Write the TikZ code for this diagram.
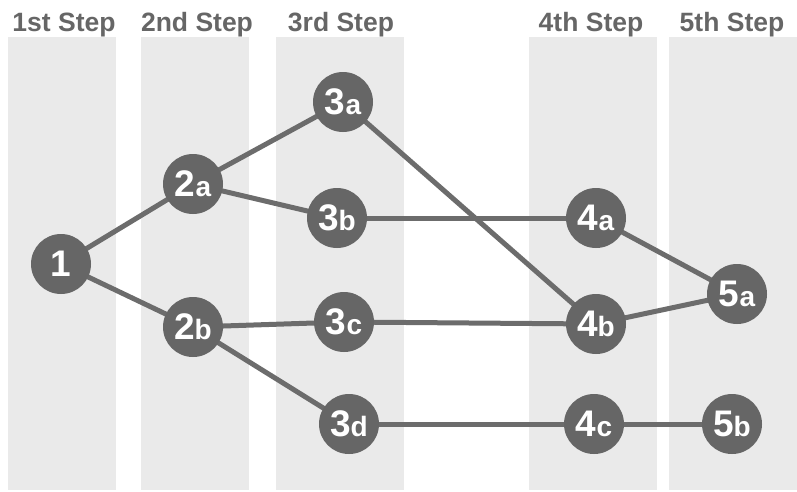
\documentclass[tikz,border=0pt]{standalone}
\usepackage{fontspec}
\setmainfont{Liberation Sans}
\definecolor{band}{RGB}{234,234,234}
\definecolor{ink}{RGB}{102,102,102}
\definecolor{wire}{RGB}{108,108,108}
\pgfdeclarelayer{bands}
\pgfdeclarelayer{wires}
\pgfsetlayers{bands,wires,main}
\newcommand{\stepnum}[2]{{\fontsize{37}{37}\selectfont\bfseries #1}{\fontsize{28}{28}\selectfont\bfseries #2}}
\tikzset{
  stage/.style={circle, fill=ink, text=white, minimum size=60pt, inner sep=0pt},
  head/.style={text=ink, font=\fontsize{26.5}{27}\selectfont\bfseries, inner sep=0pt, anchor=base},
  link/.style={draw=wire, line width=5pt},
  column/.style={fill=band}
}
\begin{document}
\begin{tikzpicture}[x=1pt,y=-1pt]
\useasboundingbox (0,0) rectangle (797,491);
% column backgrounds
\begin{pgfonlayer}{bands}
\fill[column] (8,37) rectangle (116,490);
\fill[column] (141,37) rectangle (249,490);
\fill[column] (276,37) rectangle (404,490);
\fill[column] (529,37) rectangle (657,490);
\fill[column] (669,37) rectangle (797,490);
\end{pgfonlayer}
% column headings
\node[head] (h1) at (64,31) {1st Step};
\node[head] (h2) at (197,31) {2nd Step};
\node[head] (h3) at (341,31) {3rd Step};
\node[head] (h4) at (591,31) {4th Step};
\node[head] (h5) at (732,31) {5th Step};
% steps
\node[stage] (s1) at (61,264) {\stepnum{1}{}};
\node[stage] (s2a) at (193,184) {\stepnum{2}{a}};
\node[stage] (s2b) at (193,327) {\stepnum{2}{b}};
\node[stage] (s3a) at (343,102) {\stepnum{3}{a}};
\node[stage] (s3b) at (337,218) {\stepnum{3}{b}};
\node[stage] (s3c) at (344,322) {\stepnum{3}{c}};
\node[stage] (s3d) at (349,424) {\stepnum{3}{d}};
\node[stage] (s4a) at (596,218) {\stepnum{4}{a}};
\node[stage] (s4b) at (596,324) {\stepnum{4}{b}};
\node[stage] (s4c) at (594,424) {\stepnum{4}{c}};
\node[stage] (s5a) at (737,294) {\stepnum{5}{a}};
\node[stage] (s5b) at (732,424) {\stepnum{5}{b}};
% connections
\begin{pgfonlayer}{wires}
\draw[link] (s1.center) -- (s2a.center);
\draw[link] (s1.center) -- (s2b.center);
\draw[link] (s2a.center) -- (s3a.center);
\draw[link] (s2a.center) -- (s3b.center);
\draw[link] (s2b.center) -- (s3c.center);
\draw[link] (s2b.center) -- (s3d.center);
\draw[link] (s3a.center) -- (s4b.center);
\draw[link] (s3b.center) -- (s4a.center);
\draw[link] (s3c.center) -- (s4b.center);
\draw[link] (s3d.center) -- (s4c.center);
\draw[link] (s4a.center) -- (s5a.center);
\draw[link] (s4b.center) -- (s5a.center);
\draw[link] (s4c.center) -- (s5b.center);
\end{pgfonlayer}
\end{tikzpicture}
\end{document}
